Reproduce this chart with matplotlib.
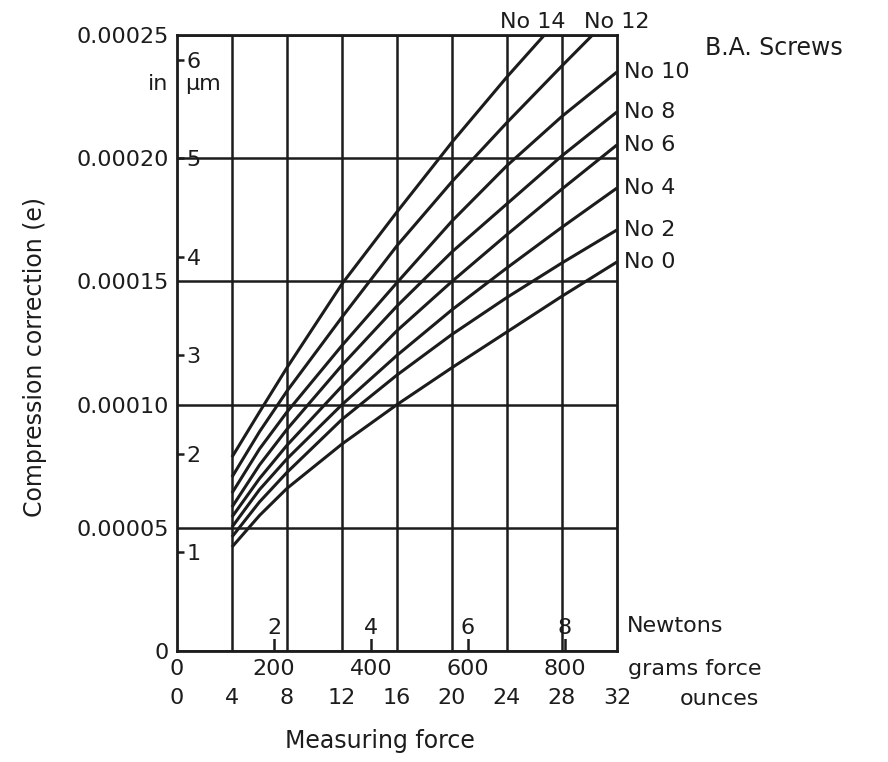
import matplotlib

matplotlib.use('Agg')

import matplotlib.pyplot as plt

# unit conversions (chart is drawn in ounces / inches)
OZ_TO_GF = 28.3495
GF_PER_N = 100.0     # newton ticks as drawn on the original (~100 gf)
UM_PER_IN = 25000.0  # micrometre scale as drawn (1 um ~ 0.00004 in)

# measuring force, ounces
force_oz = [4, 6, 8, 12, 16, 20, 24, 28, 32]

# compression correction, units of 1e-5 inch
no0 = [4.22, 5.50, 6.60, 8.40, 10.00, 11.50, 12.95, 14.40, 15.79]
no2 = [4.63, 6.05, 7.25, 9.40, 11.20, 12.85, 14.35, 15.75, 17.09]
no4 = [5.03, 6.55, 7.80, 10.00, 12.00, 13.85, 15.55, 17.20, 18.79]
no6 = [5.44, 7.00, 8.35, 10.75, 13.00, 15.00, 16.90, 18.75, 20.54]
no8 = [5.84, 7.55, 9.00, 11.60, 14.00, 16.20, 18.15, 20.10, 21.88]
no10 = [6.41, 8.20, 9.70, 12.40, 14.95, 17.45, 19.70, 21.70, 23.50]
no12 = [7.06, 8.90, 10.55, 13.55, 16.45, 19.05, 21.45, 23.75, 26.00]
no14 = [7.87, 9.70, 11.50, 14.90, 17.82, 20.65, 23.30, 25.80, 28.30]

screws = ['No 0', 'No 2', 'No 4', 'No 6', 'No 8', 'No 10', 'No 12', 'No 14']
series = [no0, no2, no4, no6, no8, no10, no12, no14]

y_ticks = [0, 0.00005, 0.00010, 0.00015, 0.00020, 0.00025]
y_ticklabels = ['0', '0.00005', '0.00010', '0.00015', '0.00020', '0.00025']
um_ticks = [1, 2, 3, 4, 5, 6]
gf_ticks = [0, 200, 400, 600, 800]
oz_ticks = [0, 4, 8, 12, 16, 20, 24, 28, 32]
n_ticks = [2, 4, 6, 8]

ink = '#1c1c1c'
fs = 16
plt.rcParams['font.family'] = ['DejaVu Sans']
plt.rcParams['text.color'] = ink

fig = plt.figure(figsize=(8.88, 7.62), dpi=100)
fig.patch.set_facecolor('white')
ax = fig.add_axes([177 / 888, 1 - 651 / 762, 440 / 888, 616 / 762])

for name, vals in zip(screws, series):
    ax.plot(force_oz, [v * 1e-5 for v in vals], color=ink, lw=2.2,
            solid_capstyle='butt', solid_joinstyle='round')

ax.set_xlim(0, 32)
ax.set_ylim(0, 0.00025)

# labels at the right edge / top edge
for name, vals in zip(screws, series):
    if name in ('No 12', 'No 14'):
        continue
    ax.annotate(name, (32, vals[-1] * 1e-5), xytext=(5, 0), textcoords='offset points',
                ha='left', va='center', fontsize=fs, annotation_clip=False)
ax.annotate('No 14', (25.9, 0.00025), xytext=(0, 2), textcoords='offset points',
            ha='center', va='bottom', fontsize=fs, annotation_clip=False)
ax.annotate('No 12', (32, 0.00025), xytext=(0, 2), textcoords='offset points',
            ha='center', va='bottom', fontsize=fs, annotation_clip=False)

# grid
ax.set_xticks(oz_ticks[1:-1], minor=True)
ax.grid(which='minor', axis='x', color=ink, lw=1.8)
ax.set_yticks(y_ticks)
ax.set_yticklabels(y_ticklabels, fontsize=fs)
ax.grid(which='major', axis='y', color=ink, lw=1.8)
ax.tick_params(axis='y', length=0, pad=6, colors=ink)
ax.tick_params(axis='x', which='minor', length=0)
for s in ax.spines.values():
    s.set_linewidth(2.0)
    s.set_color(ink)

# grams force row
ax.set_xticks([g / OZ_TO_GF for g in gf_ticks])
ax.set_xticklabels([str(g) for g in gf_ticks], fontsize=fs)
ax.tick_params(axis='x', which='major', length=0, pad=6, colors=ink)

# ounces row
sec_oz = ax.secondary_xaxis('bottom')
sec_oz.set_xticks(oz_ticks)
sec_oz.set_xticklabels([str(o) for o in oz_ticks], fontsize=fs)
sec_oz.tick_params(length=0, pad=27, colors=ink)
sec_oz.spines['bottom'].set_visible(False)

# newtons, inside ticks
sec_n = ax.secondary_xaxis('bottom', functions=(lambda x: x * OZ_TO_GF / GF_PER_N,
                                                lambda n: n * GF_PER_N / OZ_TO_GF))
sec_n.set_xticks(n_ticks)
sec_n.set_xticklabels([str(n) for n in n_ticks], fontsize=fs)
sec_n.tick_params(direction='in', length=10, width=1.8, pad=-24, colors=ink)
sec_n.spines['bottom'].set_visible(False)
for t in sec_n.get_xticklabels():
    t.set_bbox(dict(fc='white', ec='none', pad=1))

# micrometres, inside ticks on left spine
sec_um = ax.secondary_yaxis('left', functions=(lambda y: y * UM_PER_IN,
                                               lambda u: u / UM_PER_IN))
sec_um.set_yticks(um_ticks)
sec_um.set_yticklabels([str(u) for u in um_ticks], fontsize=fs)
sec_um.tick_params(direction='in', length=5, width=1.8, pad=-17, colors=ink)
sec_um.spines['left'].set_visible(False)
for t in sec_um.get_yticklabels():
    t.set_bbox(dict(fc='white', ec='none', pad=1))

# free text
fig.text(168 / 888, 1 - 84 / 762, 'in', ha='right', va='center', fontsize=fs)
fig.text(185 / 888, 1 - 84 / 762, 'µm', ha='left', va='center', fontsize=fs)
fig.text(627 / 888, 1 - 626 / 762, 'Newtons', ha='left', va='center', fontsize=fs)
fig.text(628 / 888, 1 - 669 / 762, 'grams force', ha='left', va='center', fontsize=fs)
fig.text(680 / 888, 1 - 699 / 762, 'ounces', ha='left', va='center', fontsize=fs)
fig.text(380 / 888, 1 - 741 / 762, 'Measuring force', ha='center', va='center', fontsize=fs + 1)
fig.text(35 / 888, 1 - 357 / 762, 'Compression correction (e)', rotation=90,
         ha='center', va='center', fontsize=fs + 1)
fig.text(705 / 888, 1 - 48 / 762, 'B.A. Screws', ha='left', va='center', fontsize=fs + 1)

plt.savefig('out.png', dpi=100)
